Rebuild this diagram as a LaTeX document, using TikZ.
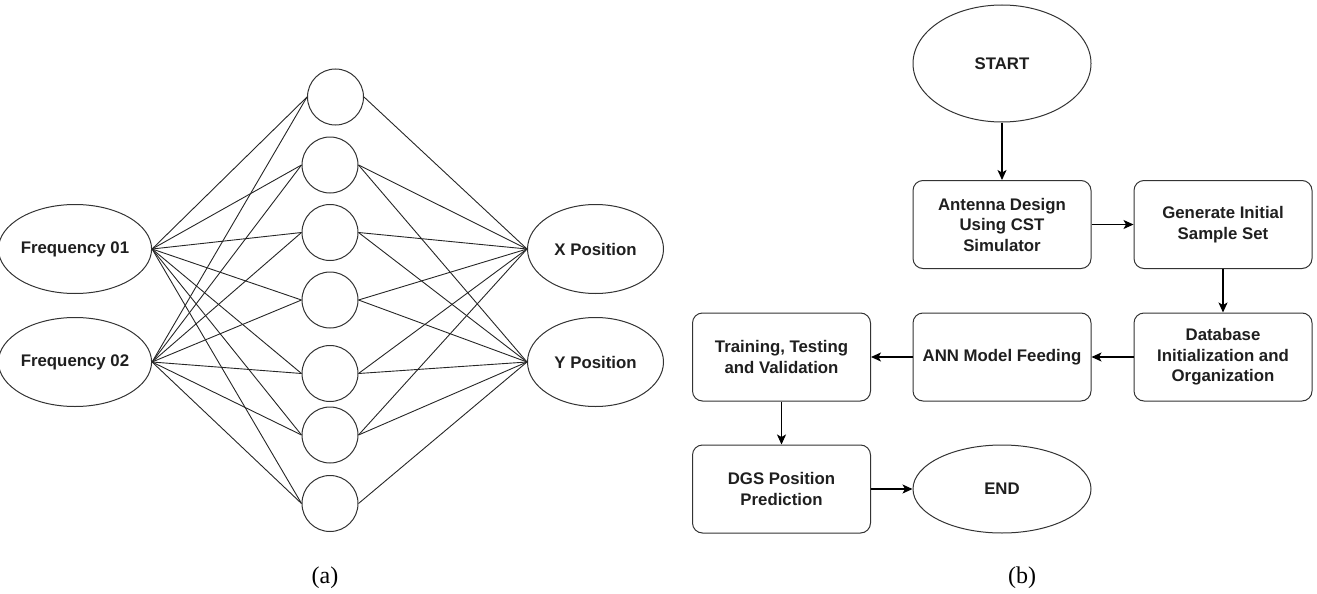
\documentclass[tikz,border=0pt]{standalone}
\usepackage{fontspec}
\setmainfont{Liberation Sans}
\newfontfamily\capfont{Liberation Serif}
\usetikzlibrary{shapes.geometric,arrows.meta}
\begin{document}
\begin{tikzpicture}[x=1pt,y=-1pt, line width=1pt,
  every node/.style={font=\bfseries\fontsize{16.8}{20.5}\selectfont, text=black!88},
  oval/.style={draw=black!80, ellipse, inner sep=0pt},
  neuron/.style={draw=black!80, circle, minimum size=56pt, inner sep=0pt},
  proc/.style={draw=black!80, rounded corners=10pt, minimum width=178pt, minimum height=88pt, align=center, inner sep=0pt},
  link/.style={line width=0.9pt, draw=black!85},
  flow/.style={-{Stealth[length=10pt,width=9pt,inset=2.5pt]}, line width=1.1pt},
  caplabel/.style={font=\capfont\fontsize{24}{28}\selectfont, text=black}]
\useasboundingbox (0,0) rectangle (1317,594);
% network (a)
\node[oval, minimum width=136pt, minimum height=89pt] (f1) at (75,249) {Frequency 01};
\node[oval, minimum width=136pt, minimum height=89pt] (f2) at (75,362) {Frequency 02};
\node[oval, minimum width=136pt, minimum height=89pt] (xp) at (595.5,249) {X Position};
\node[oval, minimum width=136pt, minimum height=89pt] (yp) at (595.5,362) {Y Position};
\node[neuron] (h1) at (335.5,97) {};
\node[neuron] (h2) at (330,165) {};
\node[neuron] (h3) at (330,232.5) {};
\node[neuron] (h4) at (330,300) {};
\node[neuron] (h5) at (330,373.5) {};
\node[neuron] (h6) at (330,435) {};
\node[neuron] (h7) at (330,503.5) {};
\foreach \h in {h1,h2,h3,h4,h5,h6,h7}{
  \draw[link] (f1.east) -- (\h.west);
  \draw[link] (f2.east) -- (\h.west);
}
\foreach \h in {h1,h2,h3,h4,h5,h6}{
  \draw[link] (\h.east) -- (xp.west);
}
\foreach \h in {h2,h3,h4,h5,h6,h7}{
  \draw[link] (\h.east) -- (yp.west);
}
\node[caplabel] (la) at (325,578) {(a)};
% flowchart (b)
\node[oval, minimum width=178pt, minimum height=117pt] (start) at (1002,63.5) {START};
\node[proc] (ant) at (1002,224.5) {Antenna Design\\Using CST\\Simulator};
\node[proc] (gen) at (1223,224.5) {Generate Initial\\Sample Set};
\node[proc] (db) at (1223,357) {Database\\Initialization and\\Organization};
\node[proc] (ann) at (1002,357) {ANN Model Feeding};
\node[proc] (train) at (781.5,357) {Training, Testing\\and Validation};
\node[proc] (dgs) at (781.5,489) {DGS Position\\Prediction};
\node[oval, minimum width=178pt, minimum height=88pt] (end) at (1002,489) {END};
\draw[flow] (start.south) -- (ant.north);
\draw[flow] (ant.east) -- (gen.west);
\draw[flow] (gen.south) -- (db.north);
\draw[flow] (db.west) -- (ann.east);
\draw[flow] (ann.west) -- (train.east);
\draw[flow] (train.south) -- (dgs.north);
\draw[flow] (dgs.east) -- (end.west);
\node[caplabel] (lb) at (1022,578) {(b)};
\end{tikzpicture}
\end{document}
